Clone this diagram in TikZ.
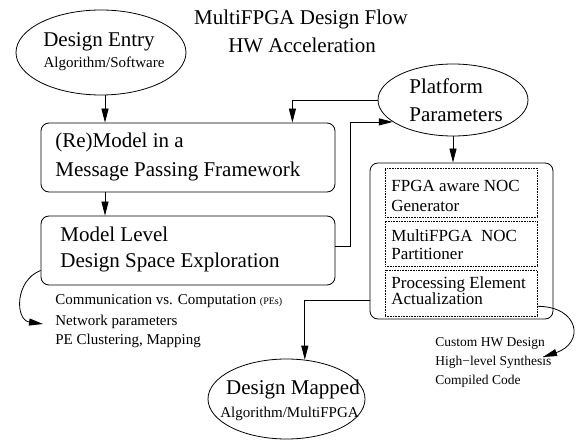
\documentclass[tikz,border=0pt]{standalone}
\usepackage{fontspec}
\setmainfont{Liberation Serif}
\usepackage{tikz}
\usetikzlibrary{shapes}
\usetikzlibrary{arrows.meta}

\begin{document}
\begin{tikzpicture}[x=1pt,y=-1pt,line width=.8pt,>={Triangle[length=14pt,width=7pt]},
  blob/.style={draw,ellipse,inner sep=0pt},
  stage/.style={draw,rectangle,rounded corners=8pt,inner sep=0pt},
  slot/.style={draw,densely dotted,line width=.6pt,rectangle,inner sep=0pt},
  lbl/.style={anchor=base west,inner sep=0pt},
  ctr/.style={anchor=base,inner sep=0pt},
  bigtxt/.style={font=\fontsize{21}{25}\selectfont},
  boxtxt/.style={font=\fontsize{17}{20}\selectfont},
  subtxt/.style={font=\fontsize{15}{18}\selectfont},
  notetxt/.style={font=\fontsize{13.5}{16}\selectfont}]
\useasboundingbox (0,0) rectangle (579,441);
\node[ctr,bigtxt] (title1) at (301,25) {MultiFPGA Design Flow};
\node[ctr,bigtxt] (title2) at (302,53) {HW Acceleration};
\node[blob,minimum width=170pt,minimum height=85pt] (entry) at (101,52.5) {};
\node[ctr,bigtxt] (entryname) at (99,47) {Design Entry};
\node[ctr,subtxt] (entrysub) at (104,68) {Algorithm/Software};
\node[stage,minimum width=294pt,minimum height=69pt] (remodel) at (188,157.5) {};
\node[lbl,bigtxt] (remodel1) at (55,148) {(Re)Model in a};
\node[lbl,bigtxt] (remodel2) at (55,177) {Message Passing Framework};
\node[stage,minimum width=294pt,minimum height=69pt] (dse) at (188,250.5) {};
\node[lbl,bigtxt] (dse1) at (60,242) {Model Level};
\node[lbl,bigtxt] (dse2) at (60,268) {Design Space Exploration};
\node[blob,minimum width=150pt,minimum height=72pt] (platform) at (453,100) {};
\node[lbl,bigtxt] (platform1) at (409,94) {Platform};
\node[lbl,bigtxt] (platform2) at (409,122) {Parameters};
\node[stage,minimum width=183pt,minimum height=156pt] (hw) at (461.5,241) {};
\node[slot,minimum width=152pt,minimum height=49pt] (noc) at (461,192.5) {};
\node[slot,minimum width=152pt,minimum height=45pt] (partn) at (461,243.5) {};
\node[slot,minimum width=152pt,minimum height=46pt] (pea) at (461,293) {};
\node[lbl,boxtxt] (noc1) at (391,192) {FPGA aware NOC};
\node[lbl,boxtxt] (noc2) at (391,212) {Generator};
\node[lbl,boxtxt] (partn1) at (391,241) {MultiFPGA\ \ NOC};
\node[lbl,boxtxt] (partn2) at (391,260) {Partitioner};
\node[lbl,boxtxt] (pea1) at (391,288) {Processing Element};
\node[lbl,boxtxt] (pea2) at (391,304) {Actualization};
\node[blob,minimum width=157pt,minimum height=80pt] (mapped) at (286.5,399) {};
\node[ctr,bigtxt] (mapped1) at (293,394) {Design Mapped};
\node[ctr,subtxt] (mapped2) at (289.5,417) {Algorithm/MultiFPGA};
\node[lbl,subtxt] (dsenote1) at (55,305) {Communication vs. Computation {\fontsize{10}{12}\selectfont(PEs)}};
\node[lbl,subtxt] (dsenote2) at (55,325) {Network parameters};
\node[lbl,subtxt] (dsenote3) at (55,344) {PE Clustering, Mapping};
\node[lbl,notetxt] (hwnote1) at (435,346) {Custom HW Design};
\node[lbl,notetxt] (hwnote2) at (435,365) {High−level Synthesis};
\node[lbl,notetxt] (hwnote3) at (435,384) {Compiled Code};
\coordinate (dsetip) at (43,324);
\coordinate (hwtip) at (543,357);
\draw[->] ([xshift=4pt]entry.south) -- ([xshift=4pt]entry.south |- remodel.north);
\draw[->] ([xshift=4pt]entry.south |- remodel.south) -- ([xshift=4pt]entry.south |- dse.north);
\draw[->] (platform.west) -| ([xshift=-43pt]remodel.north east);
\draw[->] ([yshift=4pt]dse.east) -- ++(15,0) |- (platform.200);
\draw[->] (platform.south) -- (platform.south |- hw.north);
\draw[->] ([yshift=-59pt]hw.west) -| (mapped.65);
\draw[->] ([yshift=-20pt]dse.west) .. controls +(-26,10) and +(-28,-4) .. (dsetip);
\draw[->] ([yshift=10pt]pea.south east) .. controls +(42,0) and +(42,-14) .. (hwtip);
\end{tikzpicture}
\end{document}
